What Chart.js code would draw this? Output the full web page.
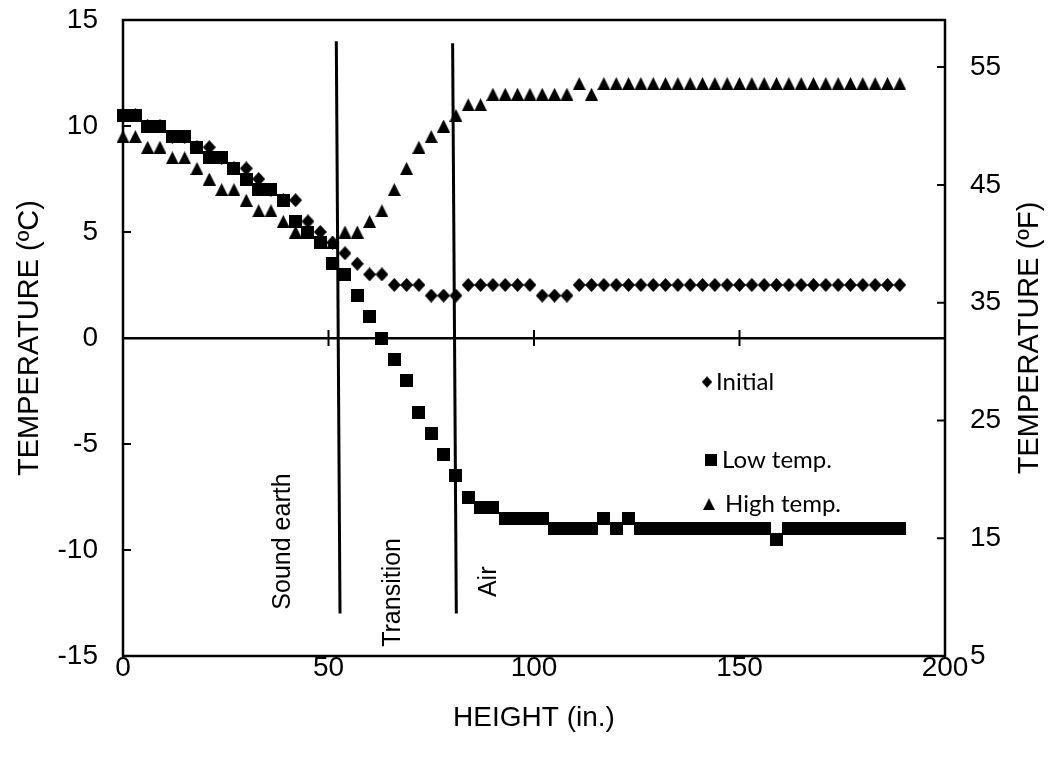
<!DOCTYPE html>
<html><head><meta charset="utf-8">
<script src="https://cdn.jsdelivr.net/npm/chart.js@4"></script>
<style>html,body{margin:0;padding:0;background:#fff}</style>
</head><body>
<canvas id="c" width="1054" height="762"></canvas>
<script>
// ---- data ----
const heights = [0,3,6,9,12,15,18,21,24,27,30,33,36,39,42,45,48,51,54,57,60,63,66,69,72,75,78,81,84,87,90,93,96,99,102,105,108,111,114,117,120,123,126,129,132,135,138,141,144,147,150,153,156,159,162,165,168,171,174,177,180,183,186,189];
const initialC = [10.5,10.5,10,10,9.5,9.5,9,9,8.5,8,8,7.5,7,6.5,6.5,5.5,5,4.5,4,3.5,3,3,2.5,2.5,2.5,2,2,2,2.5,2.5,2.5,2.5,2.5,2.5,2,2,2,
  2.5,2.5,2.5,2.5,2.5,2.5,2.5,2.5,2.5,2.5,2.5,2.5,2.5,2.5,2.5,2.5,2.5,2.5,2.5,2.5,2.5,2.5,2.5,2.5,2.5,2.5,2.5];
const lowTempC = [10.5,10.5,10,10,9.5,9.5,9,8.5,8.5,8,7.5,7,7,6.5,5.5,5,4.5,3.5,3,2,1,0,-1,-2,-3.5,-4.5,-5.5,-6.5,-7.5,-8,-8,-8.5,-8.5,-8.5,-8.5,-9,-9,-9,-9,-8.5,-9,-8.5,
  -9,-9,-9,-9,-9,-9,-9,-9,-9,-9,-9,-9.5,-9,-9,-9,-9,-9,-9,-9,-9,-9,-9];
const highTempC = [9.5,9.5,9,9,8.5,8.5,8,7.5,7,7,6.5,6,6,5.5,5,5,4.5,4.5,5,5,5.5,6,7,8,9,9.5,10,10.5,11,11,11.5,11.5,11.5,11.5,11.5,11.5,11.5,12,11.5,
  12,12,12,12,12,12,12,12,12,12,12,12,12,12,12,12,12,12,12,12,12,12,12,12,12];
const boundary1X = [51.9, 52.8], boundary1Y = [14, -13];
const boundary2X = [80.2, 81.1], boundary2Y = [13.9, -13];
const xTicks = [0, 50, 100, 150, 200];
const yTicksC = [-15, -10, -5, 0, 5, 10, 15];
const yTicksF = [5, 15, 25, 35, 45, 55];
const zoneLabels = ['Sound earth', 'Transition', 'Air'];
const zoneLabelPos = [[39.0, -9.6], [65.7, -12.0], [89.1, -11.5]];
const seriesNames = ['Initial', 'Low temp.', 'High temp.'];

// ---- markers ----
function marker(shape, w, h) {
  const c = document.createElement('canvas'); c.width = w; c.height = h;
  const g = c.getContext('2d'); g.fillStyle = '#000'; g.beginPath();
  if (shape === 'square') g.rect(0, 0, w, h);
  else if (shape === 'diamond') { g.moveTo(w/2,0); g.lineTo(w,h/2); g.lineTo(w/2,h); g.lineTo(0,h/2); g.closePath(); }
  else { g.moveTo(w/2,0); g.lineTo(w,h); g.lineTo(0,h); g.closePath(); }
  g.fill(); return c;
}
const mDiamond = marker('diamond', 13, 14);
const mSquare = marker('square', 13, 13);
const mTriangle = marker('triangle', 13, 13);

const pts = (xs, ys) => xs.map((x, i) => ({x, y: ys[i]}));
const cToF = c => c * 1.8 + 32;
const FONT = '"Liberation Sans", Arial, sans-serif';

const decor = {
  id: 'decor',
  beforeDatasetsDraw(chart) {
    const {ctx, chartArea: a, scales} = chart;
    ctx.save();
    ctx.strokeStyle = '#000'; ctx.lineWidth = 2.5;
    ctx.strokeRect(a.left, a.top, a.right - a.left, a.bottom - a.top);
    ctx.lineWidth = 2;
    ctx.beginPath();
    yTicksC.forEach(v => { const y = scales.y.getPixelForValue(v); ctx.moveTo(a.left, y); ctx.lineTo(a.left + 8, y); });
    yTicksF.forEach(v => { const y = scales.y2.getPixelForValue(v); ctx.moveTo(a.right - 8, y); ctx.lineTo(a.right, y); });
    const y0 = scales.y.getPixelForValue(0);
    xTicks.forEach(v => { const x = scales.x.getPixelForValue(v); ctx.moveTo(x, y0 - 8); ctx.lineTo(x, y0 + 8); });
    ctx.stroke();
    ctx.restore();
  },
  afterDraw(chart) {
    const {ctx, chartArea: a, scales} = chart;
    ctx.save();
    ctx.fillStyle = '#000';
    ctx.textAlign = 'center'; ctx.textBaseline = 'middle';
    ctx.font = '29px ' + FONT;
    const cy = (a.top + a.bottom) / 2;
    ctx.save(); ctx.translate(30, cy); ctx.rotate(-Math.PI/2); ctx.fillText('TEMPERATURE (ºC)', 0, 0); ctx.restore();
    ctx.save(); ctx.translate(1030, cy); ctx.rotate(-Math.PI/2); ctx.fillText('TEMPERATURE (ºF)', 0, 0); ctx.restore();
    ctx.font = '28px ' + FONT;
    ctx.fillText('HEIGHT (in.)', (a.left + a.right) / 2, 718);
    // zone labels
    ctx.font = '25px ' + FONT;
    zoneLabels.forEach((t, i) => {
      const x = scales.x.getPixelForValue(zoneLabelPos[i][0]);
      const y = scales.y.getPixelForValue(zoneLabelPos[i][1]);
      ctx.save(); ctx.translate(x, y); ctx.rotate(-Math.PI/2); ctx.fillText(t, 0, 0); ctx.restore();
    });
    // legend
    ctx.textAlign = 'left';
    ctx.font = '24px Lato, "Open Sans", sans-serif';
    const leg = [[mDiamond, 707, 382, 716], [mSquare, 711, 460, 722], [mTriangle, 709, 504, 725]];
    leg.forEach((l, i) => {
      const m = l[0];
      const s = i === 0 ? 0.8 : 0.9;
      ctx.drawImage(m, l[1] - m.width*s/2, l[2] - m.height*s/2, m.width*s, m.height*s);
      ctx.fillText(seriesNames[i], l[3], l[2]);
    });
    ctx.restore();
  }
};

const pointDs = (label, data, style) => ({
  label, data: pts(heights, data), pointStyle: style, pointRadius: 7,
  showLine: false, clip: false, yAxisID: 'y', backgroundColor: '#000', borderColor: '#000'
});
const lineDs = (xs, ys) => ({
  data: pts(xs, ys), showLine: true, pointRadius: 0, borderColor: '#000', borderWidth: 3,
  yAxisID: 'y', clip: false
});

new Chart(document.getElementById('c'), {
  type: 'scatter',
  data: {
    datasets: [
      pointDs(seriesNames[2], highTempC, mTriangle),
      pointDs(seriesNames[1], lowTempC, mSquare),
      pointDs(seriesNames[0], initialC, mDiamond),
      lineDs(boundary1X, boundary1Y),
      lineDs(boundary2X, boundary2Y)
    ]
  },
  options: {
    responsive: false, animation: false, events: [],
    layout: {padding: {top: 20, left: 0, right: 0, bottom: 0}},
    plugins: {legend: {display: false}, tooltip: {enabled: false}},
    scales: {
      x: {
        type: 'linear', position: 'bottom', min: 0, max: 200,
        afterBuildTicks: s => { s.ticks = xTicks.map(v => ({value: v})); },
        afterFit: s => { s.height = 106; s.paddingLeft = 0; s.paddingRight = 0; },
        grid: {display: false, drawTicks: false}, border: {display: false},
        ticks: {color: '#000', font: {family: FONT, size: 28}, padding: -5, maxRotation: 0}
      },
      y: {
        type: 'linear', position: 'left', min: -15, max: 15,
        afterBuildTicks: s => { s.ticks = yTicksC.map(v => ({value: v})); },
        afterFit: s => { s.width = 123; s.paddingTop = 0; s.paddingBottom = 0; },
        grid: {drawTicks: false, lineWidth: 2.5, color: c => (c.tick && c.tick.value === 0) ? '#000' : 'rgba(0,0,0,0)'},
        border: {display: false},
        ticks: {color: '#000', font: {family: FONT, size: 28}, padding: 25}
      },
      y2: {
        type: 'linear', position: 'right', min: cToF(-15), max: cToF(15),
        afterBuildTicks: s => { s.ticks = yTicksF.map(v => ({value: v})); },
        afterFit: s => { s.width = 109; s.paddingTop = 0; s.paddingBottom = 0; },
        grid: {display: false, drawTicks: false}, border: {display: false},
        ticks: {color: '#000', font: {family: FONT, size: 28}, padding: 25}
      }
    }
  },
  plugins: [decor]
});
</script>
</body></html>
